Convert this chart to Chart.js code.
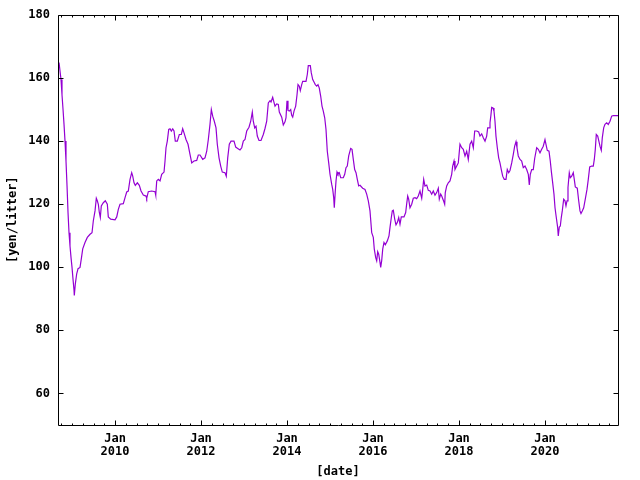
<!DOCTYPE html>
<html>
<head>
<meta charset="utf-8">
<script src="https://cdn.jsdelivr.net/npm/chart.js@4/dist/chart.umd.min.js"></script>
<style>
html,body{margin:0;padding:0;background:#fff;}
canvas{display:block;}
</style>
</head>
<body>
<canvas id="c" width="640" height="480"></canvas>
<script>
// decimal year of each sample
const years = [
2008.698,2008.744,2008.767,2008.791,2008.814,2008.837,2008.860,2008.884,2008.907,2008.930,
2008.953,2008.977,2009.000,2009.023,2009.047,2009.053,2009.077,2009.109,2009.140,2009.186,
2009.216,2009.249,2009.302,2009.356,2009.419,2009.465,2009.495,2009.535,2009.565,2009.588,
2009.612,2009.635,2009.658,2009.681,2009.728,2009.774,2009.821,2009.844,2009.900,2010.000,
2010.040,2010.077,2010.116,2010.193,2010.233,2010.272,2010.309,2010.349,2010.388,2010.412,
2010.442,2010.472,2010.519,2010.565,2010.605,2010.658,2010.721,2010.737,2010.774,2010.853,
2010.930,2010.947,2010.970,2011.007,2011.047,2011.086,2011.140,2011.163,2011.186,2011.216,
2011.249,2011.279,2011.309,2011.342,2011.372,2011.402,2011.449,2011.495,2011.542,2011.574,
2011.605,2011.651,2011.698,2011.744,2011.784,2011.837,2011.900,2011.937,2011.977,2012.040,
2012.093,2012.133,2012.170,2012.209,2012.240,2012.272,2012.309,2012.349,2012.379,2012.419,
2012.458,2012.495,2012.558,2012.588,2012.621,2012.658,2012.698,2012.767,2012.807,2012.853,
2012.907,2012.947,2012.984,2013.023,2013.063,2013.116,2013.156,2013.193,2013.216,2013.249,
2013.279,2013.309,2013.349,2013.395,2013.449,2013.488,2013.528,2013.565,2013.605,2013.628,
2013.667,2013.691,2013.721,2013.760,2013.798,2013.821,2013.877,2013.914,2013.953,2013.977,
2014.000,2014.023,2014.053,2014.086,2014.109,2014.133,2014.163,2014.202,2014.233,2014.256,
2014.286,2014.309,2014.342,2014.365,2014.442,2014.472,2014.495,2014.542,2014.565,2014.598,
2014.628,2014.658,2014.691,2014.721,2014.751,2014.784,2014.814,2014.844,2014.877,2014.907,
2014.937,2014.970,2015.000,2015.040,2015.063,2015.086,2015.100,2015.123,2015.140,2015.163,
2015.186,2015.216,2015.249,2015.309,2015.342,2015.372,2015.402,2015.435,2015.481,2015.512,
2015.542,2015.574,2015.605,2015.635,2015.667,2015.698,2015.760,2015.814,2015.853,2015.891,
2015.930,2015.970,2016.007,2016.030,2016.063,2016.086,2016.109,2016.133,2016.163,2016.179,
2016.202,2016.226,2016.256,2016.286,2016.333,2016.372,2016.395,2016.426,2016.449,2016.472,
2016.505,2016.535,2016.565,2016.598,2016.628,2016.658,2016.721,2016.760,2016.784,2016.807,
2016.830,2016.860,2016.900,2016.937,2016.977,2017.016,2017.053,2017.093,2017.133,2017.156,
2017.179,2017.209,2017.249,2017.286,2017.326,2017.365,2017.402,2017.442,2017.481,2017.519,
2017.542,2017.574,2017.598,2017.635,2017.667,2017.681,2017.714,2017.751,2017.791,2017.830,
2017.853,2017.884,2017.907,2017.947,2017.984,2018.023,2018.063,2018.100,2018.140,2018.179,
2018.216,2018.256,2018.295,2018.333,2018.365,2018.412,2018.458,2018.488,2018.528,2018.565,
2018.605,2018.644,2018.667,2018.698,2018.721,2018.744,2018.760,2018.791,2018.814,2018.837,
2018.860,2018.891,2018.923,2018.953,2018.984,2019.016,2019.053,2019.093,2019.123,2019.156,
2019.186,2019.226,2019.263,2019.295,2019.326,2019.349,2019.379,2019.419,2019.458,2019.495,
2019.535,2019.574,2019.612,2019.635,2019.658,2019.691,2019.728,2019.760,2019.807,2019.844,
2019.884,2019.923,2019.960,2020.000,2020.023,2020.053,2020.093,2020.123,2020.147,2020.179,
2020.209,2020.233,2020.263,2020.295,2020.309,2020.333,2020.356,2020.379,2020.402,2020.435,
2020.465,2020.488,2020.512,2020.535,2020.565,2020.588,2020.621,2020.658,2020.681,2020.705,
2020.751,2020.784,2020.814,2020.837,2020.867,2020.900,2020.937,2020.977,2021.007,2021.040,
2021.086,2021.123,2021.147,2021.170,2021.193,2021.226,2021.249,2021.279,2021.309,2021.333,
2021.365,2021.395,2021.435,2021.472,2021.512,2021.551,2021.588,2021.698
];
// price [yen/litter]
const prices = [
164.8,159.4,154.6,149.9,145.2,139.9,133.6,125.7,117.3,110.9,
106.7,103.0,99.9,96.2,92.6,91.0,94.7,97.9,99.5,99.9,
102.6,105.8,107.8,109.4,110.4,110.9,114.6,117.8,121.8,121.0,
119.9,117.3,115.7,119.4,120.4,121.0,119.9,115.9,115.2,115.0,
115.9,118.3,119.9,120.1,122.0,123.8,124.1,127.8,129.9,128.8,
126.7,125.9,126.7,125.9,124.1,122.8,122.5,121.8,123.9,124.1,
123.9,122.8,127.3,127.8,127.3,129.4,130.1,133.6,137.8,139.9,
143.6,143.8,143.1,143.8,143.1,139.9,139.9,142.0,142.0,143.8,
142.5,140.4,138.9,135.7,133.0,133.6,133.8,135.5,135.5,134.1,
134.6,136.7,140.4,145.2,149.9,147.8,146.2,144.1,138.9,134.6,
132.0,130.1,129.9,128.8,134.6,138.9,139.9,139.9,138.0,137.6,
137.1,137.8,139.9,140.4,143.1,144.3,146.2,149.1,146.2,144.1,
144.6,141.5,140.1,140.1,142.0,143.9,146.2,152.0,152.7,152.3,
153.8,152.5,151.0,151.7,151.5,149.1,147.5,145.0,146.0,147.3,
152.7,149.6,149.4,149.9,148.1,147.5,149.4,151.0,154.6,157.8,
157.3,155.9,157.8,158.8,158.8,161.0,163.8,163.8,161.5,159.4,
158.6,157.8,157.3,157.8,156.7,154.1,151.0,149.4,147.3,143.6,
136.7,133.0,129.4,126.2,124.6,122.0,118.8,124.1,127.3,130.1,
129.4,129.9,128.3,128.3,129.4,131.5,132.0,135.2,137.6,137.3,
134.1,130.9,129.9,127.8,125.7,125.9,125.0,124.6,123.1,121.0,
117.8,110.9,109.4,105.7,103.0,102.0,104.9,104.1,101.5,99.9,
102.0,105.7,107.8,107.1,108.3,109.9,112.5,115.7,117.8,118.0,
115.2,113.4,114.1,115.7,113.6,115.9,115.9,117.3,120.1,122.5,
121.5,118.8,119.9,121.8,122.0,121.7,122.5,124.1,121.8,124.6,
127.8,125.7,126.0,124.3,124.1,123.1,124.1,122.8,123.6,125.0,
121.5,123.1,122.5,121.2,119.9,123.6,125.7,126.7,127.3,129.4,
132.0,133.6,130.9,132.0,133.0,138.9,137.8,137.3,135.2,136.7,
134.1,138.9,139.9,137.8,143.1,143.1,142.8,141.5,142.2,141.0,
139.9,141.5,144.1,144.1,145.7,148.3,150.6,150.4,149.4,146.2,
141.5,137.8,134.6,133.0,130.9,128.8,127.8,127.8,130.9,129.9,
130.6,133.0,135.7,138.3,139.7,137.8,135.2,134.1,133.6,131.5,
132.0,130.9,129.4,126.0,129.4,130.9,130.9,134.4,137.8,137.3,
136.2,137.3,138.3,140.4,138.9,137.0,136.7,133.6,130.4,126.7,
123.1,118.8,115.7,112.5,109.9,112.7,113.0,115.7,117.8,121.5,
121.0,119.4,121.0,125.2,129.9,128.3,128.8,129.9,127.8,125.4,
125.0,121.0,117.8,117.0,117.8,118.8,121.5,124.6,127.8,131.7,
132.0,132.0,134.1,137.3,142.0,141.5,140.1,138.3,137.0,141.0,
144.1,145.2,145.7,145.2,146.2,147.8,148.0,148.0
];
// axis ranges and ticks
const xRange = [2008.674, 2021.698];
const yRange = [50, 180];
const yTicks = [60, 80, 100, 120, 140, 160, 180];
const xMajorTicks = [2010, 2012, 2014, 2016, 2018, 2020];
const xMinorStep = 0.25;
const xTickMonth = 'Jan';
const xTitle = '[date]';
const yTitle = '[yen/litter]';

const FONT = {family: "'DejaVu Sans Mono', 'Liberation Mono', monospace", size: 12, weight: 'bold', lineHeight: '13px'};

const borderTicks = {
  id: 'borderTicks',
  afterDatasetsDraw(chart) {
    const ctx = chart.ctx, a = chart.chartArea;
    const xs = chart.scales.x, ys = chart.scales.y;
    const L = Math.round(a.left) + 0.5, R = Math.round(a.right) + 0.5;
    const T = Math.round(a.top) + 0.5, B = Math.round(a.bottom) + 0.5;
    ctx.save();
    ctx.strokeStyle = '#000';
    ctx.lineWidth = 1;
    ctx.beginPath();
    ctx.rect(L, T, R - L, B - T);
    // x ticks (bottom + mirrored top)
    xs.ticks.forEach(t => {
      const major = xMajorTicks.includes(Math.round(t.value * 1000) / 1000);
      const len = major ? 5 : 2;
      const px = Math.round(xs.getPixelForValue(t.value)) + 0.5;
      if (px < L || px > R) return;
      ctx.moveTo(px, B); ctx.lineTo(px, B - len);
      ctx.moveTo(px, T); ctx.lineTo(px, T + len);
    });
    // y ticks (left + mirrored right)
    ys.ticks.forEach(t => {
      const py = Math.round(ys.getPixelForValue(t.value)) + 0.5;
      ctx.moveTo(L, py); ctx.lineTo(L + 5, py);
      ctx.moveTo(R, py); ctx.lineTo(R - 5, py);
    });
    ctx.stroke();
    ctx.restore();
  }
};

new Chart(document.getElementById('c'), {
  type: 'line',
  data: {
    datasets: [{
      data: years.map((t, i) => ({x: t, y: prices[i]})),
      borderColor: '#9400d3',
      borderWidth: 1.2,
      pointRadius: 0,
      tension: 0,
      fill: false
    }]
  },
  options: {
    responsive: false,
    animation: false,
    devicePixelRatio: 1,
    layout: {padding: {top: 13, right: 22, left: 0, bottom: 0}},
    plugins: {legend: {display: false}, tooltip: {enabled: false}},
    scales: {
      x: {
        type: 'linear',
        min: xRange[0], max: xRange[1],
        grid: {display: false, drawTicks: false, tickLength: 0},
        border: {display: false},
        afterBuildTicks(s) {
          const arr = [];
          const start = Math.ceil(xRange[0] / xMinorStep) * xMinorStep;
          for (let v = start; v <= xRange[1] + 1e-9; v += xMinorStep) arr.push({value: Math.round(v * 1000) / 1000});
          s.ticks = arr;
        },
        afterFit(s) { s.height = 55; },
        ticks: {
          autoSkip: false, maxRotation: 0, padding: 7,
          color: '#000', font: FONT,
          callback(v) { return xMajorTicks.includes(v) ? [xTickMonth, String(v)] : ''; }
        },
        title: {display: true, text: xTitle, color: '#000', font: FONT, padding: {top: 0, bottom: 2}}
      },
      y: {
        type: 'linear',
        min: yRange[0], max: yRange[1],
        grid: {display: false, drawTicks: false, tickLength: 0},
        border: {display: false},
        afterBuildTicks(s) { s.ticks = yTicks.map(v => ({value: v})); },
        afterFit(s) { s.width = 58; },
        ticks: {padding: 8, color: '#000', font: FONT, callback(v) { return String(v); }},
        title: {display: true, text: yTitle, color: '#000', font: FONT, padding: {top: 6, bottom: 0}}
      }
    }
  },
  plugins: [borderTicks]
});
</script>
</body>
</html>
